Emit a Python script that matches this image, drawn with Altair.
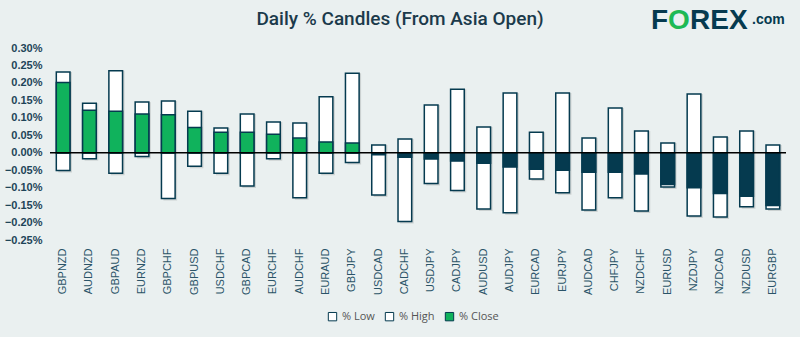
import altair as alt
import pandas as pd

pairs = ["GBPNZD", "AUDNZD", "GBPAUD", "EURNZD", "GBPCHF", "GBPUSD", "USDCHF", "GBPCAD",
         "EURCHF", "AUDCHF", "EURAUD", "GBPJPY", "USDCAD", "CADCHF", "USDJPY", "CADJPY",
         "AUDUSD", "AUDJPY", "EURCAD", "EURJPY", "AUDCAD", "CHFJPY", "NZDCHF", "EURUSD",
         "NZDJPY", "NZDCAD", "NZDUSD", "EURGBP"]
high = [0.231, 0.142, 0.235, 0.145, 0.148, 0.119, 0.071, 0.111,
        0.088, 0.085, 0.160, 0.228, 0.022, 0.039, 0.137, 0.182,
        0.074, 0.171, 0.059, 0.171, 0.042, 0.128, 0.062, 0.028,
        0.168, 0.045, 0.062, 0.022]
low = [-0.051, -0.017, -0.059, -0.011, -0.131, -0.039, -0.059, -0.095,
       -0.017, -0.129, -0.059, -0.028, -0.121, -0.197, -0.088, -0.108,
       -0.161, -0.172, -0.075, -0.115, -0.164, -0.129, -0.167, -0.098,
       -0.181, -0.184, -0.155, -0.161]
close = [0.201, 0.122, 0.119, 0.111, 0.109, 0.072, 0.059, 0.059,
         0.053, 0.042, 0.031, 0.028, -0.006, -0.013, -0.018, -0.024,
         -0.030, -0.041, -0.047, -0.050, -0.056, -0.056, -0.061, -0.091,
         -0.100, -0.117, -0.125, -0.151]
y_ticks = [-0.25, -0.20, -0.15, -0.10, -0.05, 0.0, 0.05, 0.10, 0.15, 0.20, 0.25, 0.30]
series = ["% Low", "% High", "% Close"]
title_text = "Daily % Candles (From Asia Open)"

df = pd.DataFrame({"pair": pairs, "high": high, "low": low, "close": close, "zero": 0.0})

NAVY = "#053a4f"
GREEN = "#10b25c"
BG = "#eaf0f0"

xenc = alt.X("pair:N", sort=pairs, title=None,
             scale=alt.Scale(paddingInner=0.48, paddingOuter=0.24),
             axis=alt.Axis(labelAngle=270, labelPadding=8, domain=False, ticks=False,
                           labelFont="Liberation Sans", labelFontSize=11, labelColor="#2a5468"))
yscale = alt.Scale(domain=[-0.25, 0.30], nice=False)
yaxis = alt.Axis(values=y_ticks, labelExpr="format(datum.value, '.2f') + '%'",
                 domain=False, ticks=False, grid=False, labelPadding=8,
                 labelFont="Liberation Sans", labelFontSize=11, labelFontWeight="bold",
                 labelColor="#1e4458")
fill_scale = alt.Scale(domain=series, range=["white", "white", GREEN])
legend = alt.Legend(orient="none", legendX=277, legendY=263, direction="horizontal",
                    title=None, symbolType="square", symbolSize=70,
                    symbolStrokeColor=NAVY, symbolStrokeWidth=1, symbolOpacity=1,
                    labelFont="Open Sans", labelFontSize=11, labelColor="#555555",
                    columnPadding=8, labelOffset=4)

base = alt.Chart(df)

shadow = base.mark_bar(color="#000000", opacity=0.13, xOffset=2, yOffset=2).encode(
    x=xenc,
    y=alt.Y("low:Q", scale=yscale, axis=yaxis, title=None),
    y2="high:Q",
)

low_bar = base.transform_calculate(series="'% Low'").mark_bar(
    stroke=NAVY, strokeWidth=1.5).encode(
    x=xenc,
    y=alt.Y("low:Q", scale=yscale, axis=yaxis, title=None),
    y2="zero:Q",
    fill=alt.Fill("series:N", scale=fill_scale, legend=legend),
)

high_bar = base.transform_calculate(series="'% High'").mark_bar(
    stroke=NAVY, strokeWidth=1.5).encode(
    x=xenc,
    y=alt.Y("zero:Q", scale=yscale, axis=yaxis, title=None),
    y2="high:Q",
    fill=alt.Fill("series:N", scale=fill_scale, legend=legend),
)

close_bar = base.transform_calculate(series="'% Close'").mark_bar(
    stroke=NAVY, strokeWidth=1.5).encode(
    x=xenc,
    y=alt.Y("zero:Q", scale=yscale, axis=yaxis, title=None),
    y2="close:Q",
    fill=alt.condition(alt.datum.close < 0, alt.value(NAVY),
                       alt.Fill("series:N", scale=fill_scale, legend=legend)),
)

zero_line = alt.Chart(alt.Data(values=[{"v": 0}])).mark_rule(
    color="#000000", strokeWidth=1.5).encode(y=alt.Y("v:Q", scale=yscale, axis=yaxis, title=None))

one = alt.Data(values=[{"t": 0}])
title = alt.Chart(one).mark_text(text=title_text, font="Roboto", fontSize=19, fontWeight=500,
                                 color="#1b3a4b", align="center", baseline="alphabetic"
                                 ).encode(x=alt.value(350), y=alt.value(-23))
logo_f = alt.Chart(one).mark_text(text="F", font="Liberation Sans", fontWeight="bold",
                                  fontSize=28, color=NAVY, align="left", baseline="alphabetic"
                                  ).encode(x=alt.value(601), y=alt.value(-19))
logo_o = alt.Chart(one).mark_text(text="O", font="Liberation Sans", fontWeight="bold",
                                  fontSize=28, color="#1db954", align="left", baseline="alphabetic"
                                  ).encode(x=alt.value(618), y=alt.value(-19))
logo_rex = alt.Chart(one).mark_text(text="REX", font="Liberation Sans", fontWeight="bold",
                                    fontSize=28, color=NAVY, align="left", baseline="alphabetic"
                                    ).encode(x=alt.value(640), y=alt.value(-19))
logo_com = alt.Chart(one).mark_text(text=".com", font="Liberation Sans", fontWeight="bold",
                                    fontSize=14, color=NAVY, align="left", baseline="alphabetic"
                                    ).encode(x=alt.value(702), y=alt.value(-24))

chart = alt.layer(shadow, low_bar, high_bar, close_bar, zero_line,
                  title, logo_f, logo_o, logo_rex, logo_com).properties(
    width=736, height=192,
    autosize=alt.AutoSizeParams(type="none"),
    padding={"left": 50, "top": 48, "right": 14, "bottom": 97},
    background=BG,
).configure_view(stroke=None)

chart.save("out.html", embed_options={"renderer": "svg", "actions": False})
